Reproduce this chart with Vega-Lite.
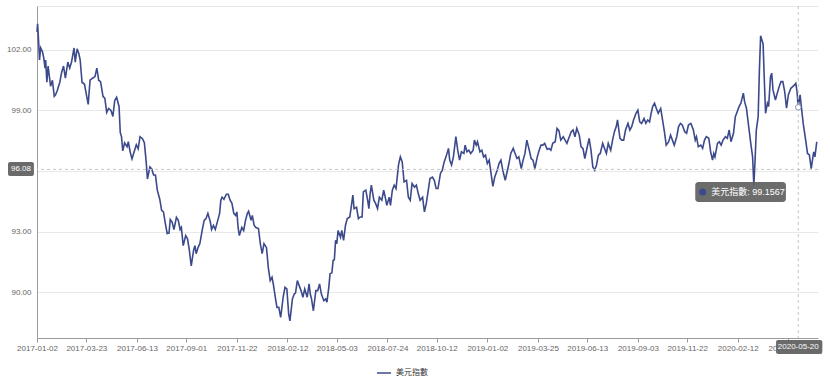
{
  "$schema": "https://vega.github.io/schema/vega-lite/v6.json",
  "width": 781,
  "height": 332,
  "autosize": {"type": "none"},
  "padding": {"left": 37, "top": 6, "right": 12, "bottom": 44},
  "background": "white",
  "config": {
    "view": {"stroke": null},
    "font": "Liberation Sans, Noto Sans CJK TC",
    "axis": {"labelFont": "Liberation Sans", "labelFontSize": 8, "labelColor": "#666666", "domainColor": "#9a9a9a", "tickColor": "#9a9a9a", "title": null}
  },
  "datasets": {
    "dxy": [
      {"d":"2017-01-02","v":102.9},{"d":"2017-01-03","v":103.3},{"d":"2017-01-05","v":102.2},{"d":"2017-01-06","v":101.5},{"d":"2017-01-08","v":102.1},{"d":"2017-01-11","v":101.9},{"d":"2017-01-13","v":101.6},{"d":"2017-01-15","v":101.1},{"d":"2017-01-16","v":101.5},{"d":"2017-01-18","v":100.4},{"d":"2017-01-20","v":101.2},{"d":"2017-01-24","v":100.2},{"d":"2017-01-27","v":100.5},{"d":"2017-01-30","v":99.7},{"d":"2017-02-01","v":99.77},{"d":"2017-02-04","v":100.0},{"d":"2017-02-08","v":100.4},{"d":"2017-02-11","v":100.9},{"d":"2017-02-14","v":101.2},{"d":"2017-02-17","v":100.6},{"d":"2017-02-21","v":101.4},{"d":"2017-02-24","v":101.1},{"d":"2017-02-27","v":101.4},{"d":"2017-03-03","v":102.1},{"d":"2017-03-05","v":101.4},{"d":"2017-03-08","v":102.06},{"d":"2017-03-11","v":101.8},{"d":"2017-03-13","v":101.5},{"d":"2017-03-16","v":100.4},{"d":"2017-03-20","v":100.3},{"d":"2017-03-23","v":99.8},{"d":"2017-03-26","v":99.3},{"d":"2017-03-29","v":100.5},{"d":"2017-04-02","v":100.6},{"d":"2017-04-06","v":100.68},{"d":"2017-04-09","v":101.1},{"d":"2017-04-12","v":100.5},{"d":"2017-04-15","v":100.43},{"d":"2017-04-19","v":99.7},{"d":"2017-04-22","v":99.6},{"d":"2017-04-25","v":98.9},{"d":"2017-04-28","v":99.1},{"d":"2017-05-02","v":99.0},{"d":"2017-05-05","v":98.7},{"d":"2017-05-08","v":99.5},{"d":"2017-05-11","v":99.65},{"d":"2017-05-15","v":99.2},{"d":"2017-05-17","v":97.9},{"d":"2017-05-19","v":97.7},{"d":"2017-05-21","v":97.0},{"d":"2017-05-24","v":97.4},{"d":"2017-05-28","v":97.2},{"d":"2017-05-30","v":97.45},{"d":"2017-06-02","v":96.95},{"d":"2017-06-05","v":96.6},{"d":"2017-06-09","v":97.0},{"d":"2017-06-12","v":97.3},{"d":"2017-06-15","v":97.1},{"d":"2017-06-18","v":97.7},{"d":"2017-06-22","v":97.6},{"d":"2017-06-25","v":97.4},{"d":"2017-06-28","v":96.45},{"d":"2017-06-30","v":95.6},{"d":"2017-07-04","v":96.2},{"d":"2017-07-07","v":96.1},{"d":"2017-07-10","v":95.8},{"d":"2017-07-13","v":95.8},{"d":"2017-07-16","v":95.05},{"d":"2017-07-20","v":94.6},{"d":"2017-07-23","v":94.05},{"d":"2017-07-26","v":93.97},{"d":"2017-07-29","v":93.4},{"d":"2017-08-01","v":92.9},{"d":"2017-08-04","v":92.92},{"d":"2017-08-06","v":93.6},{"d":"2017-08-09","v":93.47},{"d":"2017-08-12","v":93.1},{"d":"2017-08-16","v":93.7},{"d":"2017-08-19","v":93.55},{"d":"2017-08-22","v":93.1},{"d":"2017-08-24","v":93.2},{"d":"2017-08-27","v":92.3},{"d":"2017-08-31","v":92.8},{"d":"2017-09-03","v":92.64},{"d":"2017-09-06","v":92.06},{"d":"2017-09-09","v":91.3},{"d":"2017-09-13","v":92.1},{"d":"2017-09-15","v":92.3},{"d":"2017-09-17","v":91.9},{"d":"2017-09-20","v":92.2},{"d":"2017-09-23","v":92.4},{"d":"2017-09-27","v":93.1},{"d":"2017-09-30","v":93.55},{"d":"2017-10-03","v":93.64},{"d":"2017-10-06","v":93.9},{"d":"2017-10-10","v":93.47},{"d":"2017-10-12","v":93.1},{"d":"2017-10-15","v":93.3},{"d":"2017-10-18","v":93.1},{"d":"2017-10-22","v":93.55},{"d":"2017-10-25","v":93.9},{"d":"2017-10-27","v":94.55},{"d":"2017-10-29","v":94.7},{"d":"2017-11-01","v":94.6},{"d":"2017-11-05","v":94.85},{"d":"2017-11-08","v":94.85},{"d":"2017-11-11","v":94.55},{"d":"2017-11-14","v":94.4},{"d":"2017-11-17","v":93.9},{"d":"2017-11-20","v":93.8},{"d":"2017-11-22","v":93.97},{"d":"2017-11-24","v":93.2},{"d":"2017-11-26","v":92.8},{"d":"2017-11-30","v":93.2},{"d":"2017-12-03","v":93.05},{"d":"2017-12-06","v":93.55},{"d":"2017-12-09","v":93.9},{"d":"2017-12-11","v":94.0},{"d":"2017-12-15","v":93.55},{"d":"2017-12-17","v":93.8},{"d":"2017-12-20","v":93.3},{"d":"2017-12-23","v":93.2},{"d":"2017-12-27","v":93.15},{"d":"2017-12-30","v":92.4},
      {"d":"2018-01-02","v":91.9},{"d":"2018-01-05","v":92.4},{"d":"2018-01-09","v":92.2},{"d":"2018-01-12","v":91.2},{"d":"2018-01-15","v":90.57},{"d":"2018-01-18","v":90.73},{"d":"2018-01-20","v":90.4},{"d":"2018-01-24","v":89.6},{"d":"2018-01-26","v":89.24},{"d":"2018-01-29","v":89.24},{"d":"2018-02-01","v":88.74},{"d":"2018-02-05","v":89.74},{"d":"2018-02-08","v":90.23},{"d":"2018-02-11","v":90.15},{"d":"2018-02-14","v":88.9},{"d":"2018-02-16","v":88.57},{"d":"2018-02-20","v":89.66},{"d":"2018-02-23","v":89.9},{"d":"2018-02-25","v":89.95},{"d":"2018-02-28","v":90.57},{"d":"2018-03-04","v":90.23},{"d":"2018-03-06","v":90.07},{"d":"2018-03-09","v":89.74},{"d":"2018-03-12","v":90.15},{"d":"2018-03-16","v":89.74},{"d":"2018-03-19","v":90.4},{"d":"2018-03-21","v":89.9},{"d":"2018-03-23","v":89.66},{"d":"2018-03-26","v":89.07},{"d":"2018-03-30","v":90.07},{"d":"2018-04-02","v":90.07},{"d":"2018-04-05","v":90.4},{"d":"2018-04-08","v":89.9},{"d":"2018-04-12","v":89.57},{"d":"2018-04-15","v":89.66},{"d":"2018-04-17","v":89.5},{"d":"2018-04-20","v":90.23},{"d":"2018-04-22","v":90.9},{"d":"2018-04-25","v":90.95},{"d":"2018-04-27","v":91.56},{"d":"2018-04-29","v":91.6},{"d":"2018-05-01","v":92.56},{"d":"2018-05-03","v":92.4},{"d":"2018-05-05","v":93.05},{"d":"2018-05-09","v":92.72},{"d":"2018-05-11","v":93.05},{"d":"2018-05-14","v":92.56},{"d":"2018-05-17","v":93.3},{"d":"2018-05-20","v":93.64},{"d":"2018-05-24","v":93.72},{"d":"2018-05-26","v":94.13},{"d":"2018-05-29","v":94.8},{"d":"2018-05-31","v":94.13},{"d":"2018-06-04","v":94.2},{"d":"2018-06-07","v":93.64},{"d":"2018-06-10","v":93.72},{"d":"2018-06-13","v":93.72},{"d":"2018-06-15","v":94.96},{"d":"2018-06-19","v":95.05},{"d":"2018-06-22","v":94.55},{"d":"2018-06-24","v":94.13},{"d":"2018-06-26","v":94.88},{"d":"2018-06-28","v":95.3},{"d":"2018-07-02","v":94.55},{"d":"2018-07-05","v":94.38},{"d":"2018-07-08","v":94.13},{"d":"2018-07-11","v":94.7},{"d":"2018-07-15","v":94.55},{"d":"2018-07-18","v":95.05},{"d":"2018-07-21","v":94.63},{"d":"2018-07-23","v":94.3},{"d":"2018-07-27","v":94.7},{"d":"2018-07-29","v":94.3},{"d":"2018-08-01","v":95.05},{"d":"2018-08-04","v":95.3},{"d":"2018-08-07","v":95.13},{"d":"2018-08-11","v":96.3},{"d":"2018-08-14","v":96.7},{"d":"2018-08-17","v":96.45},{"d":"2018-08-20","v":95.46},{"d":"2018-08-24","v":95.54},{"d":"2018-08-27","v":94.7},{"d":"2018-08-30","v":94.55},{"d":"2018-09-02","v":95.38},{"d":"2018-09-06","v":95.2},{"d":"2018-09-09","v":95.3},{"d":"2018-09-12","v":94.88},{"d":"2018-09-15","v":94.55},{"d":"2018-09-19","v":94.7},{"d":"2018-09-22","v":93.97},{"d":"2018-09-25","v":94.38},{"d":"2018-09-29","v":95.2},{"d":"2018-10-01","v":95.63},{"d":"2018-10-05","v":95.7},{"d":"2018-10-08","v":95.54},{"d":"2018-10-11","v":95.13},{"d":"2018-10-14","v":95.13},{"d":"2018-10-18","v":95.88},{"d":"2018-10-21","v":96.04},{"d":"2018-10-24","v":96.45},{"d":"2018-10-27","v":96.7},{"d":"2018-10-31","v":97.12},{"d":"2018-11-02","v":96.54},{"d":"2018-11-05","v":96.3},{"d":"2018-11-08","v":96.7},{"d":"2018-11-12","v":97.7},{"d":"2018-11-15","v":97.03},{"d":"2018-11-18","v":96.54},{"d":"2018-11-21","v":96.95},{"d":"2018-11-25","v":96.87},{"d":"2018-11-27","v":97.28},{"d":"2018-11-30","v":96.95},{"d":"2018-12-03","v":97.03},{"d":"2018-12-06","v":96.87},{"d":"2018-12-10","v":97.03},{"d":"2018-12-12","v":97.53},{"d":"2018-12-15","v":97.28},{"d":"2018-12-17","v":97.45},{"d":"2018-12-21","v":96.95},{"d":"2018-12-24","v":97.03},{"d":"2018-12-27","v":96.7},{"d":"2018-12-30","v":96.79},
      {"d":"2019-01-02","v":96.37},{"d":"2019-01-05","v":96.54},{"d":"2019-01-08","v":95.88},{"d":"2019-01-11","v":95.24},{"d":"2019-01-14","v":95.7},{"d":"2019-01-18","v":96.04},{"d":"2019-01-21","v":96.37},{"d":"2019-01-24","v":96.54},{"d":"2019-01-27","v":96.04},{"d":"2019-01-31","v":95.54},{"d":"2019-02-03","v":95.95},{"d":"2019-02-06","v":96.37},{"d":"2019-02-09","v":96.87},{"d":"2019-02-13","v":97.12},{"d":"2019-02-16","v":96.87},{"d":"2019-02-19","v":96.62},{"d":"2019-02-22","v":96.7},{"d":"2019-02-26","v":96.12},{"d":"2019-03-01","v":96.54},{"d":"2019-03-04","v":96.87},{"d":"2019-03-07","v":97.53},{"d":"2019-03-11","v":97.03},{"d":"2019-03-14","v":96.62},{"d":"2019-03-17","v":96.54},{"d":"2019-03-20","v":96.12},{"d":"2019-03-24","v":96.7},{"d":"2019-03-27","v":97.03},{"d":"2019-03-30","v":97.28},{"d":"2019-04-02","v":97.28},{"d":"2019-04-05","v":97.37},{"d":"2019-04-09","v":97.07},{"d":"2019-04-12","v":97.12},{"d":"2019-04-15","v":97.03},{"d":"2019-04-18","v":97.37},{"d":"2019-04-22","v":97.45},{"d":"2019-04-25","v":98.11},{"d":"2019-04-28","v":98.0},{"d":"2019-05-01","v":97.53},{"d":"2019-05-05","v":97.7},{"d":"2019-05-08","v":97.53},{"d":"2019-05-11","v":97.37},{"d":"2019-05-14","v":97.62},{"d":"2019-05-18","v":97.95},{"d":"2019-05-21","v":98.03},{"d":"2019-05-24","v":97.7},{"d":"2019-05-27","v":98.11},{"d":"2019-05-31","v":97.78},{"d":"2019-06-03","v":97.2},{"d":"2019-06-06","v":97.12},{"d":"2019-06-09","v":96.62},{"d":"2019-06-13","v":97.2},{"d":"2019-06-16","v":97.62},{"d":"2019-06-19","v":97.03},{"d":"2019-06-22","v":96.2},{"d":"2019-06-25","v":96.04},{"d":"2019-06-28","v":96.3},{"d":"2019-07-01","v":96.79},{"d":"2019-07-04","v":96.87},{"d":"2019-07-08","v":97.37},{"d":"2019-07-11","v":97.12},{"d":"2019-07-14","v":96.87},{"d":"2019-07-17","v":97.37},{"d":"2019-07-21","v":97.03},{"d":"2019-07-24","v":97.53},{"d":"2019-07-27","v":97.95},{"d":"2019-07-30","v":98.2},{"d":"2019-08-01","v":98.53},{"d":"2019-08-05","v":97.62},{"d":"2019-08-08","v":97.53},{"d":"2019-08-11","v":97.53},{"d":"2019-08-14","v":98.03},{"d":"2019-08-18","v":98.36},{"d":"2019-08-21","v":98.03},{"d":"2019-08-24","v":98.2},{"d":"2019-08-27","v":98.53},{"d":"2019-08-31","v":98.86},{"d":"2019-09-03","v":99.02},{"d":"2019-09-06","v":98.44},{"d":"2019-09-09","v":98.36},{"d":"2019-09-13","v":98.6},{"d":"2019-09-16","v":98.36},{"d":"2019-09-19","v":98.53},{"d":"2019-09-22","v":98.44},{"d":"2019-09-24","v":98.78},{"d":"2019-09-27","v":99.19},{"d":"2019-09-30","v":99.36},{"d":"2019-10-03","v":99.1},{"d":"2019-10-06","v":98.86},{"d":"2019-10-10","v":99.1},{"d":"2019-10-13","v":98.53},{"d":"2019-10-16","v":97.95},{"d":"2019-10-19","v":97.28},{"d":"2019-10-23","v":97.45},{"d":"2019-10-26","v":97.78},{"d":"2019-10-29","v":97.53},{"d":"2019-11-01","v":97.28},{"d":"2019-11-05","v":97.7},{"d":"2019-11-08","v":98.2},{"d":"2019-11-11","v":98.36},{"d":"2019-11-14","v":98.28},{"d":"2019-11-18","v":97.95},{"d":"2019-11-21","v":97.87},{"d":"2019-11-24","v":98.28},{"d":"2019-11-28","v":98.36},{"d":"2019-12-02","v":98.03},{"d":"2019-12-05","v":97.53},{"d":"2019-12-07","v":97.7},{"d":"2019-12-10","v":97.2},{"d":"2019-12-14","v":97.28},{"d":"2019-12-17","v":97.12},{"d":"2019-12-20","v":97.53},{"d":"2019-12-23","v":97.7},{"d":"2019-12-27","v":97.62},{"d":"2019-12-30","v":96.95},
      {"d":"2020-01-02","v":96.54},{"d":"2020-01-04","v":96.87},{"d":"2020-01-06","v":96.7},{"d":"2020-01-10","v":97.37},{"d":"2020-01-13","v":97.45},{"d":"2020-01-16","v":97.28},{"d":"2020-01-19","v":97.53},{"d":"2020-01-23","v":97.7},{"d":"2020-01-26","v":97.62},{"d":"2020-01-29","v":98.03},{"d":"2020-02-01","v":97.45},{"d":"2020-02-05","v":97.87},{"d":"2020-02-08","v":98.69},{"d":"2020-02-11","v":98.94},{"d":"2020-02-14","v":99.19},{"d":"2020-02-17","v":99.36},{"d":"2020-02-21","v":99.86},{"d":"2020-02-23","v":99.44},{"d":"2020-02-26","v":99.11},{"d":"2020-02-29","v":98.36},{"d":"2020-03-04","v":97.37},{"d":"2020-03-07","v":96.7},{"d":"2020-03-09","v":95.3},{"d":"2020-03-11","v":96.54},{"d":"2020-03-13","v":98.03},{"d":"2020-03-16","v":98.69},{"d":"2020-03-18","v":101.0},{"d":"2020-03-20","v":102.7},{"d":"2020-03-22","v":102.5},{"d":"2020-03-24","v":102.3},{"d":"2020-03-26","v":100.5},{"d":"2020-03-28","v":98.86},{"d":"2020-03-31","v":99.36},{"d":"2020-04-02","v":99.2},{"d":"2020-04-05","v":100.68},{"d":"2020-04-07","v":100.85},{"d":"2020-04-09","v":100.02},{"d":"2020-04-13","v":99.52},{"d":"2020-04-16","v":99.86},{"d":"2020-04-19","v":100.18},{"d":"2020-04-22","v":100.43},{"d":"2020-04-25","v":100.43},{"d":"2020-04-28","v":99.94},{"d":"2020-05-01","v":99.11},{"d":"2020-05-04","v":99.78},{"d":"2020-05-08","v":100.1},{"d":"2020-05-11","v":100.18},{"d":"2020-05-14","v":100.27},{"d":"2020-05-16","v":100.35},{"d":"2020-05-18","v":99.94},{"d":"2020-05-20","v":99.1567},{"d":"2020-05-23","v":99.77},{"d":"2020-05-25","v":99.19},{"d":"2020-05-28","v":98.36},{"d":"2020-06-01","v":97.53},{"d":"2020-06-04","v":96.87},{"d":"2020-06-07","v":96.8},{"d":"2020-06-10","v":96.12},{"d":"2020-06-14","v":96.95},{"d":"2020-06-16","v":96.7},{"d":"2020-06-19","v":97.45}
    ]
  },
  "layer": [
    {
      "data": {"name": "dxy"},
      "mark": {"type": "line", "strokeWidth": 1.6},
      "encoding": {
        "x": {
          "field": "d", "type": "temporal",
          "scale": {"type": "utc", "domain": [{"year": 2017, "month": 1, "date": 2, "utc": true}, {"year": 2020, "month": 6, "date": 21, "utc": true}]},
          "axis": {
            "values": [
              {"year": 2017, "month": 1, "date": 2, "utc": true}, {"year": 2017, "month": 3, "date": 23, "utc": true}, {"year": 2017, "month": 6, "date": 13, "utc": true}, {"year": 2017, "month": 9, "date": 1, "utc": true}, {"year": 2017, "month": 11, "date": 22, "utc": true},
              {"year": 2018, "month": 2, "date": 12, "utc": true}, {"year": 2018, "month": 5, "date": 3, "utc": true}, {"year": 2018, "month": 7, "date": 24, "utc": true}, {"year": 2018, "month": 10, "date": 12, "utc": true},
              {"year": 2019, "month": 1, "date": 2, "utc": true}, {"year": 2019, "month": 3, "date": 25, "utc": true}, {"year": 2019, "month": 6, "date": 13, "utc": true}, {"year": 2019, "month": 9, "date": 3, "utc": true}, {"year": 2019, "month": 11, "date": 22, "utc": true},
              {"year": 2020, "month": 2, "date": 12, "utc": true}, {"year": 2020, "month": 5, "date": 4, "utc": true}
            ],
            "labelExpr": "utcFormat(datum.value, '%Y-%m-%d')",
            "grid": false, "tickSize": 4, "labelPadding": 2, "labelFlush": false, "labelOverlap": false
          }
        },
        "y": {
          "field": "v", "type": "quantitative",
          "scale": {"domain": [87.72, 104.18], "nice": false, "zero": false},
          "axis": {
            "values": [90, 93, 96, 99, 102, 104.18],
            "labelExpr": "datum.value > 104 || datum.value == 96 ? '' : format(datum.value, '.2f')",
            "ticks": false, "labelPadding": 6, "grid": true, "gridColor": "#e8e8e8"
          }
        },
        "color": {
          "datum": "美元指數",
          "scale": {"range": ["#3c4a8c"]},
          "legend": {"orient": "none", "legendX": 339, "legendY": 359, "title": null, "symbolType": "stroke", "symbolStrokeWidth": 1.5, "symbolSize": 200, "labelFontSize": 8, "labelColor": "#333333", "labelFont": "Noto Sans CJK TC", "padding": 0}
        }
      }
    },
    {
      "data": {"values": [{}]},
      "mark": {"type": "rule", "color": "#c4c4c4", "strokeDash": [3, 3], "strokeWidth": 1},
      "encoding": {"y": {"datum": 96.08, "type": "quantitative"}}
    },
    {
      "data": {"values": [{}]},
      "mark": {"type": "rule", "color": "#c4c4c4", "strokeDash": [3, 3], "strokeWidth": 1},
      "encoding": {"x": {"datum": {"year": 2020, "month": 5, "date": 20, "utc": true}, "type": "temporal"}}
    },
    {
      "data": {"values": [{}]},
      "mark": {"type": "point", "filled": true, "fill": "white", "stroke": "#8a93b8", "strokeWidth": 1, "size": 30, "opacity": 1},
      "encoding": {"x": {"datum": {"year": 2020, "month": 5, "date": 20, "utc": true}, "type": "temporal"}, "y": {"datum": 99.1567, "type": "quantitative"}}
    },
    {
      "data": {"values": [{}]},
      "mark": {"type": "rect", "color": "#5f5f5f", "opacity": 0.92, "cornerRadius": 3},
      "encoding": {
        "x": {"datum": {"year": 2019, "month": 12, "date": 5, "utc": true}, "type": "temporal"},
        "x2": {"datum": {"year": 2020, "month": 4, "date": 30, "utc": true}},
        "y": {"datum": 95.46, "type": "quantitative"},
        "y2": {"datum": 94.46}
      }
    },
    {
      "data": {"values": [{}]},
      "mark": {"type": "point", "filled": true, "color": "#3c4a8c", "size": 50, "opacity": 1},
      "encoding": {"x": {"datum": {"year": 2019, "month": 12, "date": 17, "utc": true}, "type": "temporal"}, "y": {"datum": 94.96, "type": "quantitative"}}
    },
    {
      "data": {"values": [{}]},
      "mark": {"type": "text", "text": "美元指數: 99.1567", "color": "white", "fontSize": 9, "align": "left", "baseline": "middle", "font": "Liberation Sans, Noto Sans CJK TC"},
      "encoding": {"x": {"datum": {"year": 2019, "month": 12, "date": 31, "utc": true}, "type": "temporal"}, "y": {"datum": 94.96, "type": "quantitative"}}
    },
    {
      "data": {"values": [{}]},
      "mark": {"type": "rect", "color": "#6a6a6a", "cornerRadius": 2},
      "encoding": {
        "x": {"datum": {"year": 2016, "month": 11, "date": 16, "utc": true}, "type": "temporal"},
        "x2": {"datum": {"year": 2016, "month": 12, "date": 28, "utc": true}},
        "y": {"datum": 96.45, "type": "quantitative"},
        "y2": {"datum": 95.75}
      }
    },
    {
      "data": {"values": [{}]},
      "mark": {"type": "text", "text": "96.08", "color": "white", "fontSize": 8, "align": "center", "baseline": "middle", "font": "Liberation Sans"},
      "encoding": {"x": {"datum": {"year": 2016, "month": 12, "date": 7, "utc": true}, "type": "temporal"}, "y": {"datum": 96.08, "type": "quantitative"}}
    },
    {
      "data": {"values": [{}]},
      "mark": {"type": "rect", "color": "#6a6a6a", "cornerRadius": 2},
      "encoding": {
        "x": {"datum": {"year": 2020, "month": 4, "date": 14, "utc": true}, "type": "temporal"},
        "x2": {"datum": {"year": 2020, "month": 6, "date": 28, "utc": true}},
        "y": {"datum": 87.62, "type": "quantitative"},
        "y2": {"datum": 86.93}
      }
    },
    {
      "data": {"values": [{}]},
      "mark": {"type": "text", "text": "2020-05-20", "color": "white", "fontSize": 8, "align": "center", "baseline": "middle", "font": "Liberation Sans"},
      "encoding": {"x": {"datum": {"year": 2020, "month": 5, "date": 20, "utc": true}, "type": "temporal"}, "y": {"datum": 87.27, "type": "quantitative"}}
    }
  ]
}
